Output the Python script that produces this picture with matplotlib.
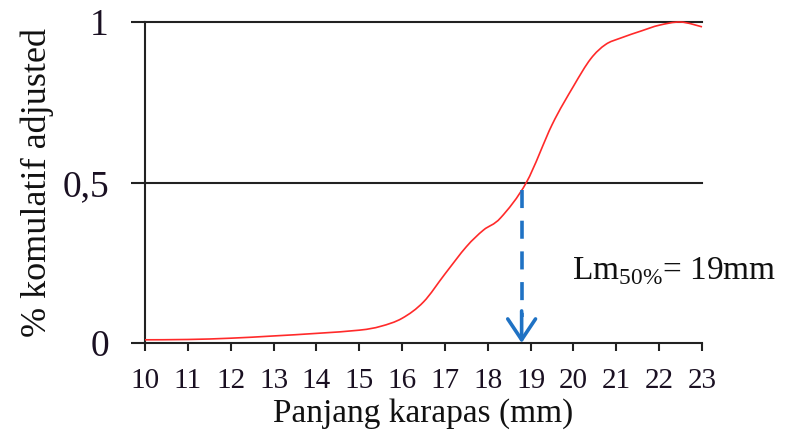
import matplotlib.pyplot as plt
from matplotlib.path import Path
import matplotlib.patches as patches

plt.rcParams['font.family'] = ['Liberation Serif', 'DejaVu Serif']
plt.rcParams['mathtext.fontset'] = 'custom'
plt.rcParams['mathtext.rm'] = 'Liberation Serif'

# odczyt z wykresu: panjang karapas (mm) vs % komulatif adjusted
panjang = [10, 11, 12, 13, 14, 15, 15.5, 16, 16.5, 17, 17.5, 17.9, 18.3,
           18.9, 19.5, 20, 20.4, 20.75, 21.1, 21.6, 22, 22.5, 23]
komulatif = [0.01, 0.011, 0.015, 0.022, 0.03, 0.04, 0.052, 0.077, 0.128, 0.215,
             0.3, 0.352, 0.39, 0.5, 0.68, 0.8, 0.885, 0.93, 0.95, 0.973, 0.99,
             1.0, 0.985]

lm50 = 18.79
lm50_y = 0.477
x_ticks = list(range(10, 24))
y_ticks = [0, 0.5, 1]
y_labels = ['0', '0,5', '1']


def smooth_path(xs, ys):
    # linia wygladzona jak w Excelu (krzywe Beziera przez punkty)
    verts = [(xs[0], ys[0])]
    codes = [Path.MOVETO]
    n = len(xs)
    for i in range(n - 1):
        x0, y0 = xs[max(i - 1, 0)], ys[max(i - 1, 0)]
        x1, y1 = xs[i], ys[i]
        x2, y2 = xs[i + 1], ys[i + 1]
        x3, y3 = xs[min(i + 2, n - 1)], ys[min(i + 2, n - 1)]
        c1 = (x1 + (x2 - x0) / 6, y1 + (y2 - y0) / 6)
        c2 = (x2 - (x3 - x1) / 6, y2 - (y3 - y1) / 6)
        verts += [c1, c2, (x2, y2)]
        codes += [Path.CURVE4] * 3
    return Path(verts, codes)


fig = plt.figure(figsize=(7.85, 4.43), dpi=100)
ax = fig.add_axes([0.1847, 0.2257, 0.7096, 0.7246])

krzywa = patches.PathPatch(smooth_path(panjang, komulatif), facecolor='none',
                           edgecolor='#ff2a2a', lw=1.2, clip_on=False, zorder=3)
ax.add_patch(krzywa)

# garis bantu pada 0,5 dan 1
for yv in [0.5, 1]:
    ax.axhline(yv, color='#222222', lw=1.5, clip_on=False, zorder=2)

# panah Lm50
ax.plot([lm50, lm50], [lm50_y, 0.08], color='#1f72c4', lw=2.6,
        dashes=(5, 3.5), zorder=4)
ax.annotate('', xy=(lm50, 0.0), xytext=(lm50, 0.1),
            arrowprops=dict(arrowstyle='->,head_length=1.5,head_width=1.0',
                            color='#1f72c4', lw=2.6, shrinkA=0, shrinkB=0),
            zorder=4)

ax.text(19.96, 0.225, r'Lm$_{\mathregular{50\%}}$= 19mm', fontsize=24,
        color='#111111', va='center', ha='left')

ax.set_xlim(10, 23)
ax.set_ylim(0, 1)
ax.set_xticks(x_ticks)
ax.set_yticks(y_ticks)
ax.set_yticklabels(y_labels)

for s in ['top', 'right']:
    ax.spines[s].set_visible(False)
for s in ['left', 'bottom']:
    ax.spines[s].set_color('#222222')
    ax.spines[s].set_linewidth(1.5)

ax.tick_params(axis='x', direction='out', length=6, width=1.5,
               color='#222222', labelsize=21, pad=12, labelcolor='#1a1022')
ax.tick_params(axis='y', direction='out', length=10, width=1.5,
               color='#222222', labelsize=27, pad=16, labelcolor='#1a1022')

ax.set_xlabel('Panjang karapas (mm)', fontsize=24, labelpad=3, color='#111111')
ax.set_ylabel('% komulatif adjusted', fontsize=26, labelpad=6, color='#111111')

plt.savefig('out.png', dpi=100)
